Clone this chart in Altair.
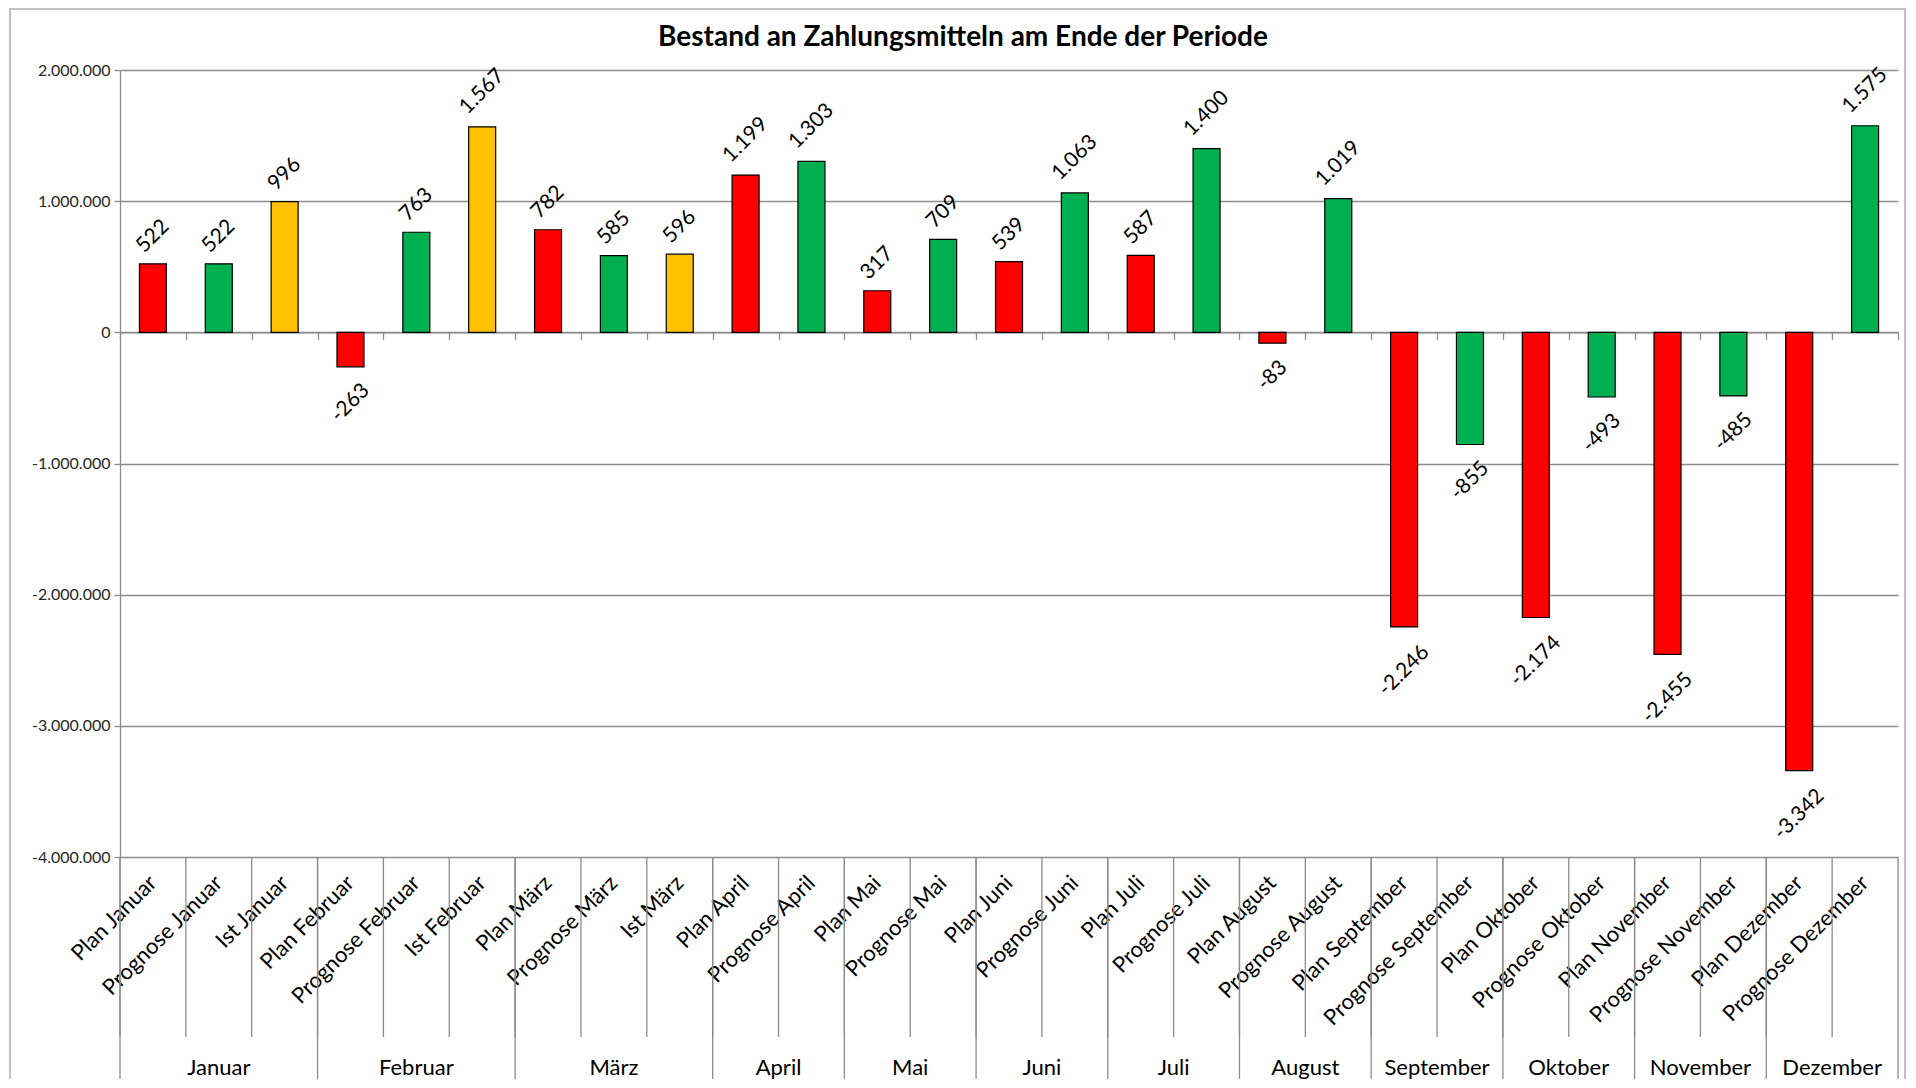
import altair as alt
import pandas as pd

categories = ["Plan Januar", "Prognose Januar", "Ist Januar",
              "Plan Februar", "Prognose Februar", "Ist Februar",
              "Plan März", "Prognose März", "Ist März",
              "Plan April", "Prognose April", "Plan Mai", "Prognose Mai",
              "Plan Juni", "Prognose Juni", "Plan Juli", "Prognose Juli",
              "Plan August", "Prognose August", "Plan September", "Prognose September",
              "Plan Oktober", "Prognose Oktober", "Plan November", "Prognose November",
              "Plan Dezember", "Prognose Dezember"]
values_k = [522, 522, 996, -263, 763, 1567, 782, 585, 596, 1199, 1303, 317, 709,
            539, 1063, 587, 1400, -83, 1019, -2246, -855, -2174, -493, -2455, -485,
            -3342, 1575]
months = ["Januar", "Februar", "März", "April", "Mai", "Juni", "Juli", "August",
          "September", "Oktober", "November", "Dezember"]
months_three = ["Januar", "Februar", "März"]
y_ticks = [-4000000, -3000000, -2000000, -1000000, 0, 1000000, 2000000]
kinds = ["Plan", "Prognose", "Ist"]
kind_colors = ["#FF0000", "#00B050", "#FFC000"]
title_text = "Bestand an Zahlungsmitteln am Ende der Periode"

W, H = 1778, 787
FONT = "Lato"
GRAY = "#8c8c8c"

df = pd.DataFrame({"cat": categories, "k": values_k})
df["v"] = df["k"] * 1000
df["kind"] = df["cat"].str.split(" ").str[0]

xscale = alt.Scale(domain=categories, paddingInner=0, paddingOuter=0)
yscale = alt.Scale(domain=[-4000000, 2000000], nice=False, zero=False)

de_fmt = "replace(replace(format(datum.value, ','), regexp(',', 'g'), '.'), '\u2212', '-')"

y_axis = alt.Axis(values=y_ticks, labelExpr=de_fmt, grid=True,
                  gridColor=GRAY, gridWidth=1.3, domainColor=GRAY,
                  domainWidth=1.3, tickColor=GRAY, tickSize=6, tickWidth=1.3,
                  labelFontSize=16, labelFont=FONT, labelColor="#262626",
                  labelPadding=4, title=None)

bars = alt.Chart(df).mark_bar(
    width=alt.RelativeBandSize(0.41), stroke="black", strokeWidth=1.2
).encode(
    x=alt.X("cat:N", sort=categories, scale=xscale,
            axis=alt.Axis(orient="bottom", labelAngle=-45, labelAlign="right",
                          labelBaseline="middle", ticks=False, domain=False,
                          labelFontSize=22, labelFont=FONT, labelColor="#000000",
                          labelPadding=22, labelOverlap=False, labelLimit=0,
                          title=None, grid=False)),
    y=alt.Y("v:Q", scale=yscale, axis=y_axis),
    color=alt.Color("kind:N", scale=alt.Scale(domain=kinds, range=kind_colors),
                    legend=None),
)

zero_offset = -(H - H * 2 / 6)

labels = alt.Chart(df).transform_calculate(
    lab="replace(replace(format(datum.k, ','), regexp(',', 'g'), '.'), '\u2212', '-')"
).transform_calculate(
    off="0.354 * (10.8 * length(datum.lab) + 14) + (datum.k >= 0 ? 11 : 16)"
).transform_calculate(
    yl=f"datum.v + (datum.k >= 0 ? 1 : -1) * datum.off * 6000000 / {H}"
).mark_text(
    angle=315, align="center", baseline="middle", fontSize=21, font=FONT,
    color="#000000"
).encode(
    x=alt.X("cat:N", sort=categories, scale=xscale,
            axis=alt.Axis(orient="bottom", offset=zero_offset, labels=False,
                          ticks=True, tickSize=7, tickBand="extent",
                          tickColor=GRAY, tickWidth=1.3, domain=True,
                          domainColor=GRAY, domainWidth=1.5, grid=False,
                          title=None)),
    y=alt.Y("yl:Q", scale=yscale, axis=y_axis),
    text="lab:N",
)

# separators below the axis
sep_df = pd.DataFrame({"cat": categories})
end_df = pd.DataFrame({"cat": [categories[-1]]})
month_start_df = pd.DataFrame({"cat": ["Plan " + m for m in months]})

minor_sep = alt.Chart(sep_df).mark_rule(color=GRAY, strokeWidth=1.3).encode(
    x=alt.X("cat:N", sort=categories, scale=xscale, bandPosition=0, axis=None),
    y=alt.value(H), y2=alt.value(H + 180),
)
major_sep = alt.Chart(month_start_df).mark_rule(color=GRAY, strokeWidth=1.3).encode(
    x=alt.X("cat:N", sort=categories, scale=xscale, bandPosition=0, axis=None),
    y=alt.value(H), y2=alt.value(H + 230),
)
end_sep = alt.Chart(end_df).mark_rule(color=GRAY, strokeWidth=1.3).encode(
    x=alt.X("cat:N", sort=categories, scale=xscale, bandPosition=1, axis=None),
    y=alt.value(H), y2=alt.value(H + 230),
)

m3 = pd.DataFrame({"month": months_three,
                   "cat": ["Prognose " + m for m in months_three]})
m2 = pd.DataFrame({"month": [m for m in months if m not in months_three],
                   "cat": ["Prognose " + m for m in months if m not in months_three]})

mlab3 = alt.Chart(m3).mark_text(fontSize=22, font=FONT, color="#000000",
                                baseline="middle").encode(
    x=alt.X("cat:N", sort=categories, scale=xscale, bandPosition=0.5, axis=None),
    y=alt.value(H + 211), text="month:N",
)
mlab2 = alt.Chart(m2).mark_text(fontSize=22, font=FONT, color="#000000",
                                baseline="middle").encode(
    x=alt.X("cat:N", sort=categories, scale=xscale, bandPosition=0, axis=None),
    y=alt.value(H + 211), text="month:N",
)

frame = alt.Chart(pd.DataFrame({"a": [0]})).mark_rect(
    fill="#ffffff", fillOpacity=0, stroke="#c0c0c0", strokeWidth=2
).encode(
    x=alt.value(-110), x2=alt.value(1785), y=alt.value(-61), y2=alt.value(H + 260),
)

title = alt.Chart(pd.DataFrame({"t": [title_text]})).mark_text(
    fontSize=28, font=FONT, fontWeight="bold", color="#000000",
    align="center", baseline="middle"
).encode(
    x=alt.value(843), y=alt.value(-32), text="t:N",
)

chart = alt.layer(
    frame, bars, labels, minor_sep, major_sep, end_sep, mlab3, mlab2, title
).resolve_axis(x="independent").properties(
    width=W, height=H,
    autosize=alt.AutoSizeParams(type="none"),
    padding={"left": 112, "top": 62, "right": 10, "bottom": 222},
).configure_view(stroke="transparent")

chart.save("out.html", embed_options={"renderer": "svg", "actions": False})
